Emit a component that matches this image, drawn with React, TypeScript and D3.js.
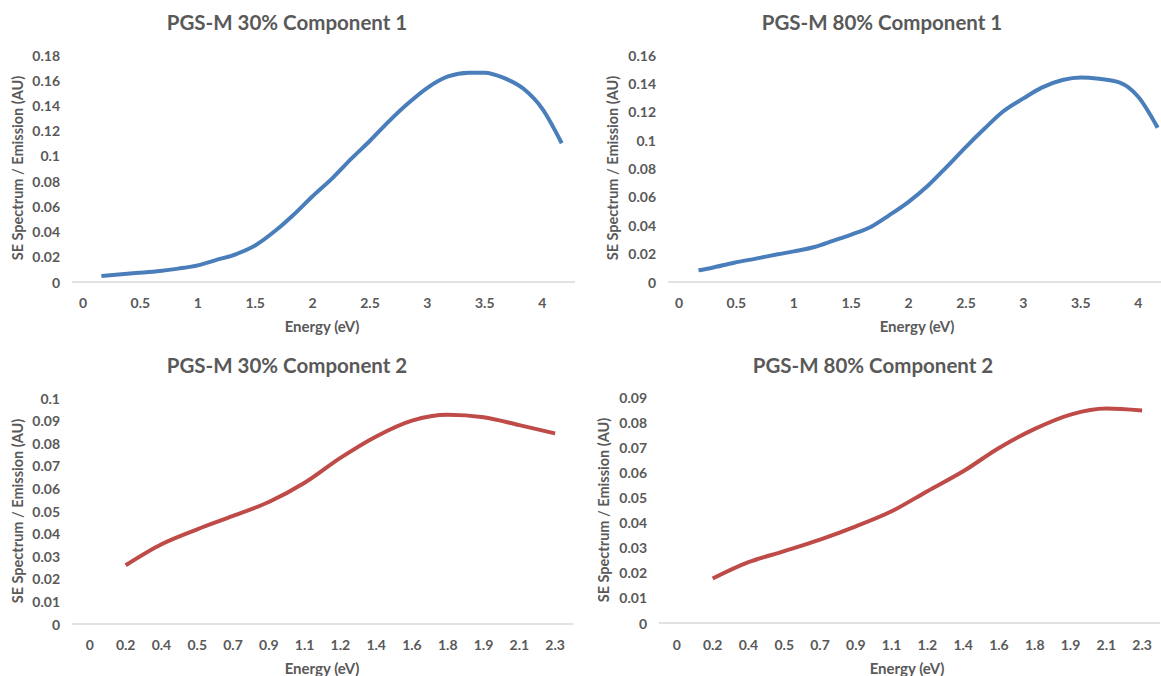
import React from "react";
import * as d3 from "d3";

// ---------- DATA ----------
const c1_30_energy = [0.16, 0.46, 0.67, 0.83, 1.0, 1.15, 1.33, 1.5, 1.68, 1.83, 2.0, 2.18, 2.34, 2.5, 2.66, 2.83, 3.0, 3.18, 3.36, 3.5, 3.66, 3.84, 4.0, 4.17];
const c1_30_values = [0.0048, 0.0071, 0.0087, 0.0106, 0.0132, 0.0172, 0.022, 0.029, 0.041, 0.053, 0.068, 0.083, 0.098, 0.112, 0.127, 0.1415, 0.154, 0.163, 0.166, 0.166, 0.162, 0.153, 0.1375, 0.11];

const c1_80_energy = [0.17, 0.28, 0.48, 0.67, 0.86, 1.0, 1.18, 1.34, 1.5, 1.67, 1.83, 2.0, 2.17, 2.33, 2.5, 2.66, 2.82, 3.0, 3.16, 3.34, 3.5, 3.66, 3.84, 4.0, 4.17];
const c1_80_values = [0.0082, 0.0099, 0.0136, 0.0165, 0.0195, 0.0216, 0.0247, 0.029, 0.0334, 0.0388, 0.047, 0.0565, 0.068, 0.081, 0.0953, 0.108, 0.12, 0.1294, 0.137, 0.1424, 0.1442, 0.1432, 0.1405, 0.1306, 0.1087];

const c2_categories = ["0", "0.2", "0.4", "0.5", "0.7", "0.9", "1.1", "1.2", "1.4", "1.6", "1.8", "1.9", "2.1", "2.3"];
const c2_30_values: (number | null)[] = [null, 0.026, 0.0353, 0.0419, 0.0478, 0.054, 0.0625, 0.0735, 0.083, 0.09, 0.0926, 0.0915, 0.088, 0.0843];
const c2_80_values: (number | null)[] = [null, 0.0177, 0.0242, 0.0286, 0.0332, 0.0385, 0.0445, 0.0525, 0.0604, 0.0697, 0.0773, 0.083, 0.0854, 0.0846];

const c1_xTicks = [0, 0.5, 1, 1.5, 2, 2.5, 3, 3.5, 4];
const c1_30_yTicks = [0, 0.02, 0.04, 0.06, 0.08, 0.1, 0.12, 0.14, 0.16, 0.18];
const c1_80_yTicks = [0, 0.02, 0.04, 0.06, 0.08, 0.1, 0.12, 0.14, 0.16];
const c2_30_yTicks = [0, 0.01, 0.02, 0.03, 0.04, 0.05, 0.06, 0.07, 0.08, 0.09, 0.1];
const c2_80_yTicks = [0, 0.01, 0.02, 0.03, 0.04, 0.05, 0.06, 0.07, 0.08, 0.09];

const titles = ["PGS-M 30% Component 1", "PGS-M 80% Component 1", "PGS-M 30% Component 2", "PGS-M 80% Component 2"];
const yTitle = "SE Spectrum / Emission (AU)";
const xTitle = "Energy (eV)";

// ---------- STYLE ----------
const FONT = "Lato, 'Open Sans', sans-serif";
const TEXT = "#595959";
const AXIS = "#d9d9d9";
const BLUE = "#4a7ebb";
const RED = "#be4b48";

const fmt = (v: number) => (v === 0 ? "0" : String(+v.toFixed(3)));

type Box = {
  left: number; right: number; top: number; bottom: number;
  titleX: number; titleY: number; yLabX: number; yLabY: number;
  xLabX: number; xLabY: number; xTickY: number;
};

function YAxis({ y, ticks, box }: { y: d3.ScaleLinear<number, number>; ticks: number[]; box: Box }) {
  return (
    <g>
      {ticks.map((t) => (
        <text key={t} x={box.left - 12} y={y(t)} textAnchor="end" dominantBaseline="central"
          fontFamily={FONT} fontSize={14} fontWeight={700} fill={TEXT}>{fmt(t)}</text>
      ))}
      <text transform={`translate(${box.yLabX},${box.yLabY}) rotate(-90)`} textAnchor="middle"
        dominantBaseline="central" fontFamily={FONT} fontSize={14.5} fontWeight={700} fill={TEXT}>{yTitle}</text>
    </g>
  );
}

function Frame({ box, title }: { box: Box; title: string }) {
  return (
    <g>
      <text x={box.titleX} y={box.titleY} textAnchor="middle" dominantBaseline="central"
        fontFamily={FONT} fontSize={20.5} fontWeight={700} fill={TEXT}>{title}</text>
      <line x1={box.left} x2={box.right} y1={box.bottom} y2={box.bottom} stroke={AXIS} strokeWidth={1.5} />
      <text x={box.xLabX} y={box.xLabY} textAnchor="middle" dominantBaseline="central"
        fontFamily={FONT} fontSize={15} fontWeight={700} fill={TEXT}>{xTitle}</text>
    </g>
  );
}

function ScatterPanel({ box, title, xs, ys, yTicks, color }: {
  box: Box; title: string; xs: number[]; ys: number[]; yTicks: number[]; color: string;
}) {
  const zeroOffset = 11;
  const unit = 114.8;
  const x = d3.scaleLinear()
    .domain([-zeroOffset / unit, (box.right - box.left - zeroOffset) / unit])
    .range([box.left, box.right]);
  const y = d3.scaleLinear().domain([0, yTicks[yTicks.length - 1]]).range([box.bottom, box.top]);
  const pts = xs.map((v, i) => [v, ys[i]] as [number, number]);
  const line = d3.line<[number, number]>().x((d) => x(d[0])).y((d) => y(d[1])).curve(d3.curveMonotoneX);
  return (
    <g>
      <Frame box={box} title={title} />
      <YAxis y={y} ticks={yTicks} box={box} />
      {c1_xTicks.map((t) => (
        <text key={t} x={x(t)} y={box.xTickY} textAnchor="middle" dominantBaseline="central"
          fontFamily={FONT} fontSize={14} fontWeight={700} fill={TEXT}>{fmt(t)}</text>
      ))}
      <path d={line(pts) || ""} fill="none" stroke={color} strokeWidth={4} strokeLinejoin="round" />
    </g>
  );
}

function CategoryPanel({ box, title, values, yTicks, color }: {
  box: Box; title: string; values: (number | null)[]; yTicks: number[]; color: string;
}) {
  const x = d3.scaleBand<string>().domain(c2_categories).range([box.left, box.right]);
  const cx = (c: string) => (x(c) as number) + x.bandwidth() / 2;
  const y = d3.scaleLinear().domain([0, yTicks[yTicks.length - 1]]).range([box.bottom, box.top]);
  const pts = c2_categories
    .map((c, i) => [c, values[i]] as [string, number | null])
    .filter((d) => d[1] !== null) as [string, number][];
  const line = d3.line<[string, number]>().x((d) => cx(d[0])).y((d) => y(d[1])).curve(d3.curveMonotoneX);
  return (
    <g>
      <Frame box={box} title={title} />
      <YAxis y={y} ticks={yTicks} box={box} />
      {c2_categories.map((c) => (
        <text key={c} x={cx(c)} y={box.xTickY} textAnchor="middle" dominantBaseline="central"
          fontFamily={FONT} fontSize={14} fontWeight={700} fill={TEXT}>{c}</text>
      ))}
      <path d={line(pts) || ""} fill="none" stroke={color} strokeWidth={4} strokeLinejoin="round" />
    </g>
  );
}

const boxTL: Box = { left: 72, right: 575, top: 55, bottom: 282, titleX: 287, titleY: 22, yLabX: 17, yLabY: 168, xLabX: 322, xLabY: 326, xTickY: 302 };
const boxTR: Box = { left: 668, right: 1161, top: 55, bottom: 282, titleX: 882, titleY: 22, yLabX: 612, yLabY: 168, xLabX: 917, xLabY: 326, xTickY: 302 };
const boxBL: Box = { left: 72, right: 573, top: 398, bottom: 624, titleX: 287, titleY: 365, yLabX: 17, yLabY: 511, xLabX: 322, xLabY: 668, xTickY: 644 };
const boxBR: Box = { left: 659, right: 1160, top: 397, bottom: 623, titleX: 873, titleY: 365, yLabX: 603, yLabY: 510, xLabX: 907, xLabY: 668, xTickY: 644 };

export default function App() {
  return (
    <svg width={1161} height={676} style={{ position: "absolute", left: 0, top: 0, background: "#fff" }}>
      <rect x={0} y={0} width={1161} height={676} fill="#fff" />
      <ScatterPanel box={boxTL} title={titles[0]} xs={c1_30_energy} ys={c1_30_values} yTicks={c1_30_yTicks} color={BLUE} />
      <ScatterPanel box={boxTR} title={titles[1]} xs={c1_80_energy} ys={c1_80_values} yTicks={c1_80_yTicks} color={BLUE} />
      <CategoryPanel box={boxBL} title={titles[2]} values={c2_30_values} yTicks={c2_30_yTicks} color={RED} />
      <CategoryPanel box={boxBR} title={titles[3]} values={c2_80_values} yTicks={c2_80_yTicks} color={RED} />
    </svg>
  );
}
